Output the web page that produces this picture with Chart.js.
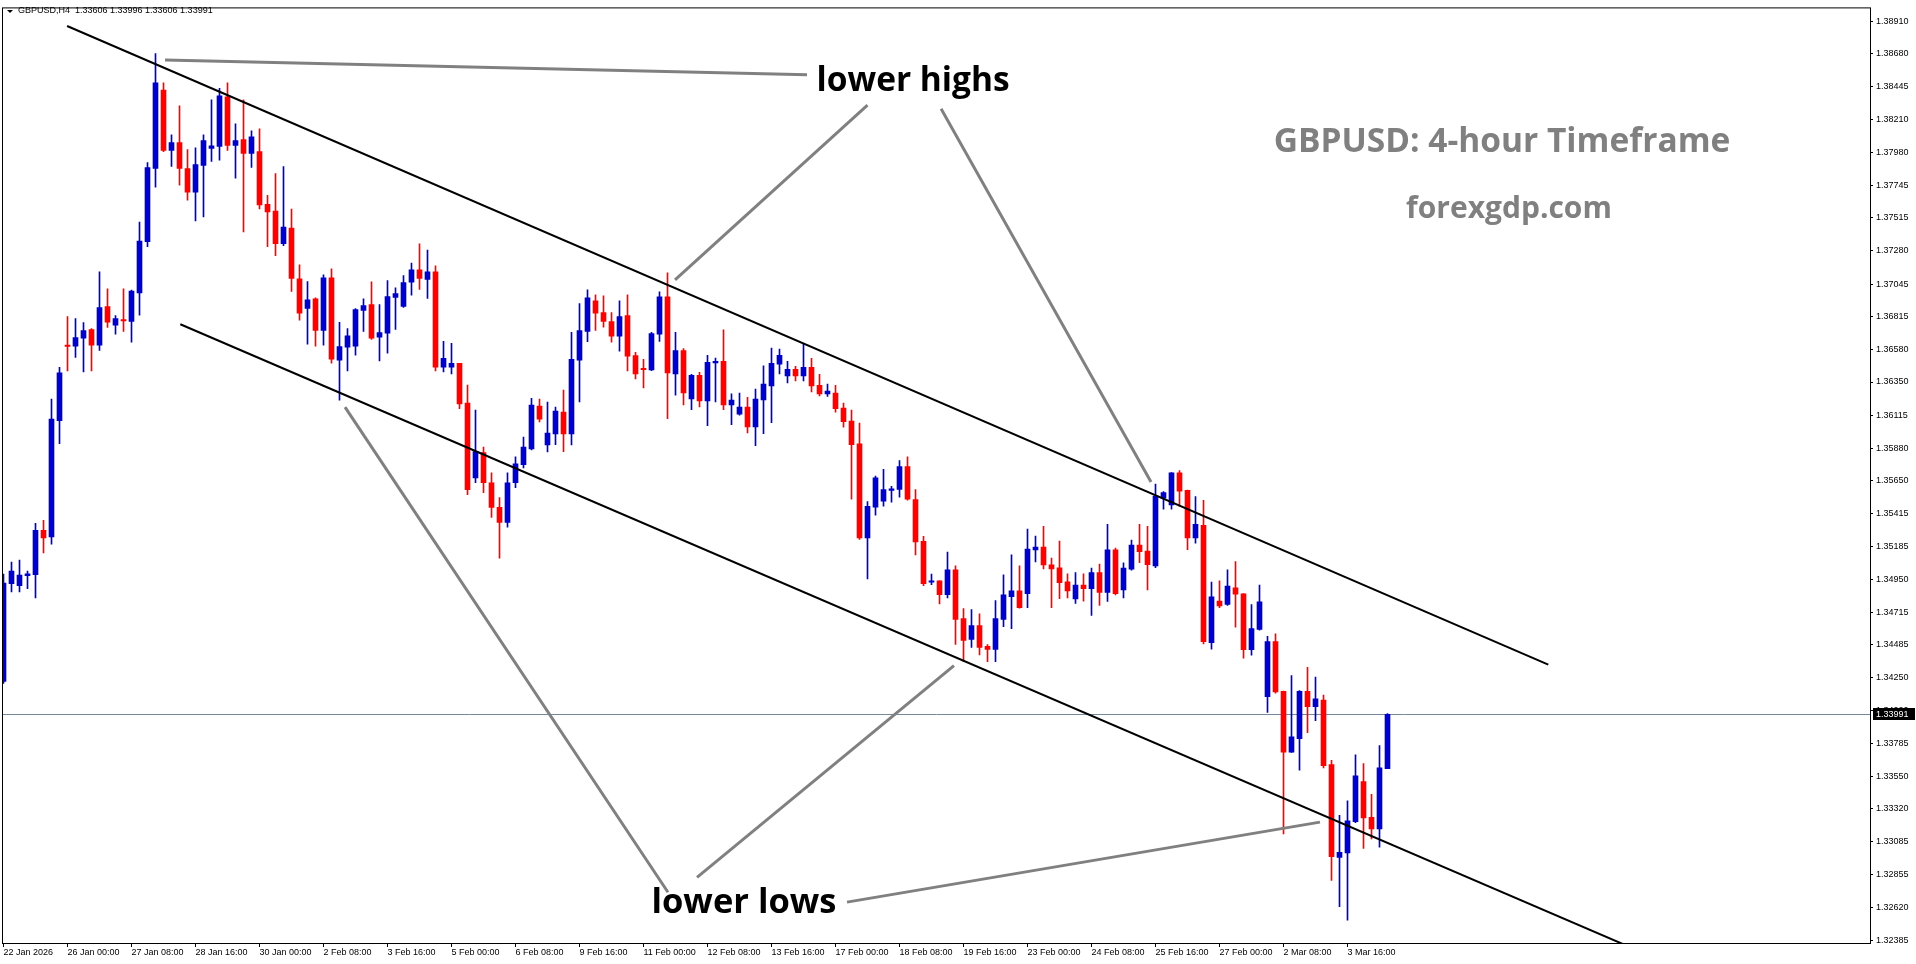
<!DOCTYPE html>
<html>
<head>
<meta charset="utf-8">
<title>GBPUSD H4</title>
<script src="https://cdn.jsdelivr.net/npm/chart.js@4.4.1/dist/chart.umd.min.js"></script>
<style>
  html, body { margin: 0; padding: 0; background: #fff; overflow: hidden; }
</style>
</head>
<body>
<canvas id="chart" width="1916" height="964"></canvas>
<script>
// GBPUSD H4 candles, one entry per bar (bar 0 = 22 Jan 16:00)
var opens = [
  1.34224, 1.34918, 1.34904, 1.34975, 1.34982, 1.35297, 1.35250, 1.36075, 1.36612, 1.36604,
  1.36661, 1.36722, 1.36612, 1.36885, 1.36753, 1.36793, 1.36781, 1.36982, 1.37346, 1.37867,
  1.38423, 1.37994, 1.38049, 1.37865, 1.37698, 1.37888, 1.38008, 1.38022, 1.38374, 1.38029,
  1.38070, 1.37973, 1.37985, 1.37612, 1.37563, 1.37332, 1.37443, 1.37083, 1.36873, 1.36941,
  1.36717, 1.37090, 1.36505, 1.36597, 1.36604, 1.36859, 1.36899, 1.36668, 1.36696, 1.36951,
  1.36887, 1.37058, 1.37146, 1.37078, 1.37132, 1.36456, 1.36456, 1.36482, 1.36200, 1.35670,
  1.35849, 1.35635, 1.35460, 1.35354, 1.35635, 1.35764, 1.35875, 1.36179, 1.35904, 1.35982,
  1.36136, 1.35982, 1.36505, 1.36710, 1.36927, 1.36843, 1.36779, 1.36675, 1.36821, 1.36538,
  1.36448, 1.36435, 1.36689, 1.36955, 1.36407, 1.36574, 1.36230, 1.36398, 1.36216, 1.36485,
  1.36497, 1.36188, 1.36122, 1.36172, 1.36031, 1.36223, 1.36322, 1.36477, 1.36393, 1.36440,
  1.36393, 1.36454, 1.36327, 1.36266, 1.36271, 1.36165, 1.36073, 1.35911, 1.35243, 1.35462,
  1.35504, 1.35581, 1.35588, 1.35749, 1.35516, 1.35220, 1.34930, 1.34939, 1.34840, 1.35017,
  1.34671, 1.34523, 1.34622, 1.34473, 1.34452, 1.34664, 1.34826, 1.34868, 1.34847, 1.35158,
  1.35179, 1.35052, 1.35031, 1.34932, 1.34810, 1.34909, 1.34884, 1.34998, 1.34857, 1.35158,
  1.34875, 1.35022, 1.35192, 1.35150, 1.35045, 1.35526, 1.35477, 1.35706, 1.35581, 1.35244,
  1.35333, 1.34500, 1.34795, 1.34771, 1.34889, 1.34847, 1.34450, 1.34593, 1.34116, 1.34507,
  1.34155, 1.33723, 1.33818, 1.34155, 1.34046, 1.34093, 1.33634, 1.32976, 1.33007, 1.33229,
  1.33514, 1.33260, 1.33177, 1.33606
];
var highs = [
  1.34987, 1.35071, 1.35086, 1.35008, 1.35347, 1.35368, 1.36228, 1.36454, 1.36814, 1.36800,
  1.36772, 1.36729, 1.37132, 1.37012, 1.36821, 1.37012, 1.37003, 1.37485, 1.37908, 1.38682,
  1.38473, 1.38105, 1.38310, 1.37999, 1.38013, 1.38105, 1.38353, 1.38435, 1.38473, 1.38183,
  1.38353, 1.38133, 1.38147, 1.37675, 1.37830, 1.37879, 1.37577, 1.37181, 1.37063, 1.36948,
  1.37111, 1.37154, 1.36774, 1.36729, 1.36871, 1.36941, 1.37061, 1.36899, 1.37070, 1.37019,
  1.37106, 1.37195, 1.37330, 1.37287, 1.37174, 1.36638, 1.36624, 1.36482, 1.36329, 1.36151,
  1.35889, 1.35706, 1.35530, 1.35706, 1.35819, 1.35960, 1.36235, 1.36228, 1.36207, 1.36172,
  1.36292, 1.36702, 1.36906, 1.37005, 1.36969, 1.36962, 1.36843, 1.36927, 1.36969, 1.36561,
  1.36511, 1.36702, 1.36991, 1.37125, 1.36702, 1.36588, 1.36405, 1.36419, 1.36540, 1.36520,
  1.36720, 1.36266, 1.36271, 1.36242, 1.36299, 1.36464, 1.36591, 1.36583, 1.36497, 1.36461,
  1.36624, 1.36518, 1.36405, 1.36335, 1.36327, 1.36200, 1.36150, 1.36059, 1.35502, 1.35683,
  1.35730, 1.35610, 1.35793, 1.35819, 1.35587, 1.35255, 1.34987, 1.34939, 1.35142, 1.35045,
  1.34742, 1.34735, 1.34704, 1.34487, 1.34798, 1.34982, 1.35123, 1.35045, 1.35306, 1.35257,
  1.35326, 1.35101, 1.35221, 1.34989, 1.34998, 1.34988, 1.35029, 1.35058, 1.35340, 1.35171,
  1.35066, 1.35228, 1.35340, 1.35326, 1.35626, 1.35572, 1.35707, 1.35721, 1.35583, 1.35536,
  1.35510, 1.34930, 1.34938, 1.35016, 1.35075, 1.34849, 1.34771, 1.34909, 1.34544, 1.34562,
  1.34157, 1.34267, 1.34160, 1.34325, 1.34255, 1.34127, 1.33665, 1.33274, 1.33378, 1.33704,
  1.33641, 1.33423, 1.33769, 1.33996
];
var lows = [
  1.34210, 1.34860, 1.34860, 1.34883, 1.34817, 1.35137, 1.35199, 1.35913, 1.36428, 1.36525,
  1.36421, 1.36428, 1.36574, 1.36737, 1.36690, 1.36710, 1.36633, 1.36824, 1.37310, 1.37733,
  1.37985, 1.37881, 1.37747, 1.37641, 1.37494, 1.37522, 1.37916, 1.37924, 1.37994, 1.37797,
  1.37416, 1.37874, 1.37579, 1.37310, 1.37247, 1.37318, 1.36993, 1.36789, 1.36619, 1.36604,
  1.36612, 1.36484, 1.36222, 1.36428, 1.36540, 1.36710, 1.36652, 1.36499, 1.36555, 1.36724,
  1.36880, 1.36966, 1.37007, 1.36943, 1.36428, 1.36421, 1.36407, 1.36160, 1.35551, 1.35635,
  1.35565, 1.35389, 1.35100, 1.35319, 1.35600, 1.35741, 1.35868, 1.36066, 1.35854, 1.35906,
  1.35856, 1.35904, 1.36208, 1.36637, 1.36717, 1.36739, 1.36633, 1.36569, 1.36428, 1.36372,
  1.36308, 1.36430, 1.36639, 1.36089, 1.36257, 1.36188, 1.36153, 1.36174, 1.36040, 1.36208,
  1.36153, 1.36047, 1.36115, 1.35989, 1.35899, 1.35983, 1.36061, 1.36407, 1.36343, 1.36358,
  1.36358, 1.36280, 1.36251, 1.36247, 1.36136, 1.36029, 1.35518, 1.35233, 1.34952, 1.35405,
  1.35469, 1.35497, 1.35532, 1.35511, 1.35122, 1.34904, 1.34911, 1.34775, 1.34818, 1.34487,
  1.34365, 1.34466, 1.34412, 1.34365, 1.34365, 1.34614, 1.34600, 1.34745, 1.34748, 1.35073,
  1.35024, 1.34749, 1.34812, 1.34817, 1.34779, 1.34795, 1.34694, 1.34764, 1.34792, 1.34839,
  1.34817, 1.35015, 1.35067, 1.34875, 1.35032, 1.35448, 1.35448, 1.35469, 1.35160, 1.35206,
  1.34491, 1.34453, 1.34748, 1.34765, 1.34610, 1.34390, 1.34411, 1.34589, 1.34004, 1.34142,
  1.33142, 1.33720, 1.33595, 1.33861, 1.33947, 1.33610, 1.32812, 1.32626, 1.32530, 1.33222,
  1.33039, 1.33106, 1.33049, 1.33606
];
var closes = [
  1.34923, 1.35008, 1.34980, 1.34989, 1.35297, 1.35243, 1.36087, 1.36416, 1.36602, 1.36666,
  1.36715, 1.36612, 1.36878, 1.36774, 1.36800, 1.36784, 1.36996, 1.37351, 1.37872, 1.38473,
  1.37994, 1.38049, 1.37867, 1.37698, 1.37893, 1.38063, 1.38027, 1.38381, 1.38029, 1.38063,
  1.37973, 1.38091, 1.37607, 1.37558, 1.37332, 1.37450, 1.37085, 1.36838, 1.36934, 1.36717,
  1.37090, 1.36512, 1.36602, 1.36677, 1.36864, 1.36892, 1.36661, 1.36701, 1.36956, 1.36977,
  1.37056, 1.37146, 1.37085, 1.37132, 1.36456, 1.36518, 1.36482, 1.36195, 1.35586, 1.35856,
  1.35635, 1.35460, 1.35354, 1.35635, 1.35769, 1.35889, 1.36186, 1.36087, 1.35987, 1.36144,
  1.35982, 1.36511, 1.36715, 1.36948, 1.36838, 1.36781, 1.36675, 1.36814, 1.36533, 1.36407,
  1.36438, 1.36694, 1.36955, 1.36414, 1.36574, 1.36272, 1.36398, 1.36216, 1.36490, 1.36497,
  1.36188, 1.36221, 1.36172, 1.36031, 1.36228, 1.36335, 1.36482, 1.36539, 1.36440, 1.36393,
  1.36454, 1.36322, 1.36266, 1.36285, 1.36160, 1.36068, 1.35906, 1.35243, 1.35467, 1.35670,
  1.35586, 1.35591, 1.35749, 1.35518, 1.35215, 1.34918, 1.34939, 1.34840, 1.35017, 1.34664,
  1.34516, 1.34622, 1.34466, 1.34452, 1.34671, 1.34840, 1.34868, 1.34748, 1.35165, 1.35179,
  1.35052, 1.35024, 1.34925, 1.34868, 1.34909, 1.34884, 1.34998, 1.34857, 1.35158, 1.34847,
  1.35029, 1.35192, 1.35145, 1.35053, 1.35540, 1.35565, 1.35706, 1.35575, 1.35244, 1.35340,
  1.34507, 1.34826, 1.34761, 1.34902, 1.34844, 1.34450, 1.34599, 1.34789, 1.34507, 1.34150,
  1.33723, 1.33832, 1.34155, 1.34046, 1.34101, 1.33626, 1.32981, 1.33012, 1.33235, 1.33555,
  1.33255, 1.33177, 1.33612, 1.33991
];

// time axis labels, one every 8 bars
var xLabels = [
  '22 Jan 2026', '26 Jan 00:00', '27 Jan 08:00', '28 Jan 16:00', '30 Jan 00:00', '2 Feb 08:00',
  '3 Feb 16:00', '5 Feb 00:00', '6 Feb 08:00', '9 Feb 16:00', '11 Feb 00:00', '12 Feb 08:00',
  '13 Feb 16:00', '17 Feb 00:00', '18 Feb 08:00', '19 Feb 16:00', '23 Feb 00:00', '24 Feb 08:00',
  '25 Feb 16:00', '27 Feb 00:00', '2 Mar 08:00', '3 Mar 16:00'
];
var labelEvery = 8;

// price axis ticks
var yTicks = [
  1.38910, 1.38680, 1.38445, 1.38210, 1.37980, 1.37745, 1.37515, 1.37280, 1.37045, 1.36815,
  1.36580, 1.36350, 1.36115, 1.35880, 1.35650, 1.35415, 1.35185, 1.34950, 1.34715, 1.34485,
  1.34250, 1.34020, 1.33785, 1.33550, 1.33320, 1.33085, 1.32855, 1.32620, 1.32385
];

var symbol = 'GBPUSD,H4';

// drawn objects, anchored in [bar, price]
var channel = [
  [[7.95, 1.38877], [193.1, 1.34344]],
  [[22.1, 1.36760], [202.7, 1.32354]]
];
var pointers = [
  [[20.19, 1.38635], [100.44, 1.38531]],
  [[108.0, 1.38316], [83.94, 1.37075]],
  [[117.2, 1.38289], [143.44, 1.35640]],
  [[42.69, 1.36172], [83.06, 1.32728]],
  [[86.69, 1.32834], [118.81, 1.34337]],
  [[105.44, 1.32658], [164.56, 1.33226]]
];
var notes = [
  { text: 'lower highs', bar: 113.7, price: 1.38487, width: 193 },
  { text: 'lower lows', bar: 92.56, price: 1.32651, width: 185 }
];
var watermarks = [
  { text: 'GBPUSD: 4-hour Timeframe', cx: 1502, cy: 142, width: 457 },
  { text: 'forexgdp.com', cx: 1509, cy: 209, width: 206 }
];

var BULL = '#0000CD', BEAR = '#FF0000';
var tickFont = { family: 'Liberation Sans', size: 9 };

var bars = opens.map(function (o, i) { return i; });
var colors = bars.map(function (i) { return closes[i] >= opens[i] ? BULL : BEAR; });

function fitFont(ctx, text, width) {
  ctx.font = 'bold 100px "Open Sans"';
  var s = 100 * width / ctx.measureText(text).width;
  return 'bold ' + s.toFixed(1) + 'px "Open Sans"';
}

var overlay = {
  id: 'overlay',
  beforeDatasetsDraw: function (chart) {
    var ctx = chart.ctx, a = chart.chartArea, y = chart.scales.y;
    var py = Math.round(y.getPixelForValue(closes[closes.length - 1])) + 0.5;
    ctx.save();
    ctx.strokeStyle = '#778899';
    ctx.lineWidth = 1;
    ctx.beginPath();
    ctx.moveTo(a.left, py);
    ctx.lineTo(a.right, py);
    ctx.stroke();
    ctx.restore();
  },
  afterDatasetsDraw: function (chart) {
    var ctx = chart.ctx, a = chart.chartArea, x = chart.scales.x, y = chart.scales.y;
    function line(seg) {
      ctx.beginPath();
      ctx.moveTo(x.getPixelForValue(seg[0][0]), y.getPixelForValue(seg[0][1]));
      ctx.lineTo(x.getPixelForValue(seg[1][0]), y.getPixelForValue(seg[1][1]));
      ctx.stroke();
    }
    ctx.save();
    ctx.beginPath();
    ctx.rect(a.left, a.top, a.right - a.left, a.bottom - a.top);
    ctx.clip();

    ctx.strokeStyle = '#808080';
    ctx.lineWidth = 3;
    pointers.forEach(line);

    ctx.strokeStyle = '#000';
    ctx.lineWidth = 2;
    channel.forEach(line);

    ctx.textAlign = 'center';
    ctx.textBaseline = 'middle';
    ctx.fillStyle = '#000';
    notes.forEach(function (n) {
      ctx.font = fitFont(ctx, n.text, n.width);
      ctx.fillText(n.text, x.getPixelForValue(n.bar), y.getPixelForValue(n.price));
    });
    ctx.fillStyle = '#808080';
    watermarks.forEach(function (w) {
      ctx.font = fitFont(ctx, w.text, w.width);
      ctx.fillText(w.text, w.cx, w.cy);
    });
    ctx.restore();
  },
  afterDraw: function (chart) {
    var ctx = chart.ctx, a = chart.chartArea, y = chart.scales.y;
    var last = closes.length - 1;
    ctx.save();
    // frame
    ctx.strokeStyle = '#000';
    ctx.lineWidth = 1;
    ctx.strokeRect(a.left - 0.5, a.top - 0.5, a.right - a.left + 1, a.bottom - a.top + 1);

    // header
    ctx.fillStyle = '#000';
    ctx.beginPath();
    ctx.moveTo(7, 10);
    ctx.lineTo(13, 10);
    ctx.lineTo(10, 13);
    ctx.closePath();
    ctx.fill();
    ctx.font = '9px "Liberation Sans"';
    ctx.textBaseline = 'middle';
    ctx.textAlign = 'left';
    ctx.fillText(symbol + '  ' + [opens[last], highs[last], lows[last], closes[last]]
      .map(function (v) { return v.toFixed(5); }).join(' '), 18, 11);

    // price tag
    var py = Math.round(y.getPixelForValue(closes[last]));
    ctx.fillStyle = '#000';
    ctx.fillRect(a.right + 3, py - 6, 42, 12);
    ctx.fillStyle = '#fff';
    ctx.fillText(closes[last].toFixed(5), a.right + 6, py + 0.5);
    ctx.restore();
  }
};

var ctx = document.getElementById('chart').getContext('2d');
var chart = new Chart(ctx, {
  type: 'bar',
  data: {
    datasets: [{
      label: 'wick',
      data: bars.map(function (i) { return { x: i, y: [lows[i], highs[i]] }; }),
      backgroundColor: colors,
      barThickness: 1,
      grouped: false,
      order: 2
    }, {
      label: 'body',
      data: bars.map(function (i) {
        return { x: i, y: [Math.min(opens[i], closes[i]), Math.max(opens[i], closes[i])] };
      }),
      backgroundColor: colors,
      barThickness: 5,
      minBarLength: 1,
      grouped: false,
      order: 1
    }]
  },
  options: {
    responsive: false,
    animation: false,
    devicePixelRatio: 1,
    events: [],
    layout: { padding: { left: 3, top: 3, right: 0, bottom: 0 } },
    plugins: { legend: { display: false }, tooltip: { enabled: false }, title: { display: false } },
    scales: {
      x: {
        type: 'linear',
        min: -0.0625,
        max: 233.3125,
        bounds: 'data',
        offset: false,
        afterBuildTicks: function (s) {
          s.ticks = xLabels.map(function (l, k) { return { value: k * labelEvery }; });
        },
        afterFit: function (s) { s.height = 21; },
        grid: { offset: false, drawOnChartArea: false, drawTicks: true, tickLength: 4, color: '#000' },
        border: { display: false },
        ticks: {
          autoSkip: false,
          maxRotation: 0,
          minRotation: 0,
          align: 'start',
          padding: 0,
          font: tickFont,
          color: '#000',
          callback: function (v) { return xLabels[Math.round(v / labelEvery)]; }
        }
      },
      y: {
        type: 'linear',
        position: 'right',
        min: 1.32368,
        max: 1.39002,
        bounds: 'data',
        afterBuildTicks: function (s) {
          s.ticks = yTicks.map(function (v) { return { value: v }; });
        },
        afterFit: function (s) { s.width = 46; },
        grid: { drawOnChartArea: false, drawTicks: true, tickLength: 3, color: '#000' },
        border: { display: false },
        ticks: {
          autoSkip: false,
          padding: 3,
          font: tickFont,
          color: '#000',
          callback: function (v) { return v.toFixed(5); }
        }
      }
    }
  },
  plugins: [overlay]
});
</script>
</body>
</html>
